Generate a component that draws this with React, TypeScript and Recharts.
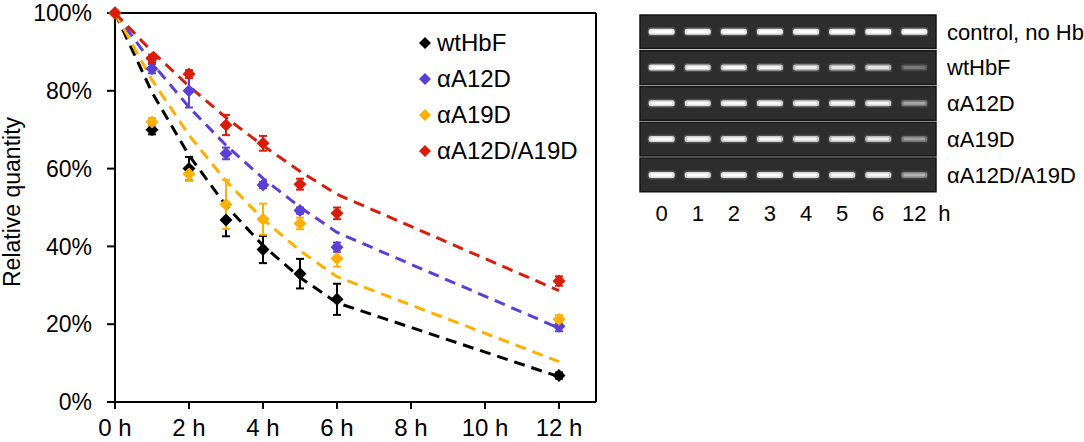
import React from 'react';
import {
  ComposedChart, Line, Scatter, XAxis, YAxis, ErrorBar, ReferenceLine, ReferenceArea, Legend,
} from 'recharts';

// ---------- data: time course ----------
const times = [0, 1, 2, 3, 4, 5, 6, 12];
const xTicks = [0, 2, 4, 6, 8, 10, 12];
const yTicks = [0, 20, 40, 60, 80, 100];

const seriesNames = ['wtHbF', 'αA12D', 'αA19D', 'αA12D/A19D'];
const seriesColors = ['#000000', '#5B40D6', '#FFB000', '#D81E0A'];

const wtMean = [100, 70, 60, 46.8, 39.2, 33, 26.4, 6.8];
const wtErr = [0, 1.2, 3, 4.2, 3.5, 3.8, 4, 0.8];
const a12Mean = [100, 85.7, 80, 63.9, 55.8, 49.2, 39.8, 19.5];
const a12Err = [0, 1.2, 4.3, 1.5, 0.8, 0.8, 1.2, 1.3];
const a19Mean = [100, 72, 58.6, 50.8, 47, 45.9, 36.9, 21.3];
const a19Err = [0, 1, 1.6, 6.3, 4, 1.5, 2.1, 1];
const dblMean = [100, 88.3, 84.3, 71.2, 66.5, 56, 48.5, 31.1];
const dblErr = [0, 1, 1, 2.6, 1.9, 1.4, 1.5, 1.2];

// dashed fitted curves
const wtFit = [100, 79.6, 63.4, 50.5, 40.2, 32.0, 25.5, 6.5];
const a12Fit = [100, 87.1, 75.8, 66.0, 57.5, 50.1, 43.6, 19.0];
const a19Fit = [100, 82.8, 68.6, 56.8, 47.0, 38.9, 32.2, 10.4];
const dblFit = [100, 90.1, 81.2, 73.1, 65.9, 59.3, 53.4, 28.6];

// ---------- data: gel ----------
const laneLabels = ['0', '1', '2', '3', '4', '5', '6', '12'];
const gelRows = ['control, no Hb', 'wtHbF', 'αA12D', 'αA19D', 'αA12D/A19D'];
const gelControl = [1, 1, 1, 1, 1, 1, 1, 1];
const gelWt = [0.95, 0.85, 0.82, 0.78, 0.72, 0.68, 0.66, 0.2];
const gelA12 = [0.9, 0.9, 0.88, 0.88, 0.85, 0.85, 0.8, 0.35];
const gelA19 = [0.9, 0.85, 0.82, 0.82, 0.8, 0.78, 0.72, 0.33];
const gelDbl = [0.95, 0.92, 0.92, 0.92, 0.9, 0.88, 0.85, 0.4];

const FONT = '"Liberation Sans", Arial, sans-serif';

const means = [wtMean, a12Mean, a19Mean, dblMean];
const errs = [wtErr, a12Err, a19Err, dblErr];
const fits = [wtFit, a12Fit, a19Fit, dblFit];

const pointData = means.map((m, s) => times.map((t, i) => ({ t, y: m[i], err: errs[s][i] })));
const fitData = fits.map((f) => times.map((t, i) => ({ t, y: f[i] })));

const gelIntensity = [gelControl, gelWt, gelA12, gelA19, gelDbl];
const bandData = gelIntensity.flatMap((rowVals, row) =>
  rowVals.map((v, lane) => ({ lane, row, v }))
);

const Diamond = (props: any) => {
  const { cx, cy, fill } = props;
  if (cx == null || cy == null) return null;
  const r = 6.5;
  return <path d={`M${cx},${cy - r}L${cx + r},${cy}L${cx},${cy + r}L${cx - r},${cy}Z`} fill={fill} />;
};

const LegendBox = () => (
  <div style={{ fontFamily: FONT, fontSize: 24, color: '#000' }}>
    {seriesNames.map((n, i) => (
      <div key={n} style={{ height: 36, display: 'flex', alignItems: 'center' }}>
        <svg width={14} height={14} style={{ marginRight: 5 }}>
          <path d="M7,1L13,7L7,13L1,7Z" fill={seriesColors[i]} />
        </svg>
        <span>{n}</span>
      </div>
    ))}
  </div>
);

const Band = (props: any) => {
  const { cx, cy, payload } = props;
  if (cx == null || cy == null) return null;
  const v = payload.v;
  return (
    <g>
      <rect x={cx - 14} y={cy - 4.5} width={28} height={9} rx={3} fill="#9a9a9a" opacity={v * 0.35} />
      <rect x={cx - 13} y={cy - 3} width={26} height={6} rx={2.5} fill="#e8e8e8" opacity={v} />
      <rect x={cx - 11} y={cy - 1.5} width={22} height={3} rx={1.5} fill="#ffffff" opacity={v} />
    </g>
  );
};

const GelTick = (props: any) => {
  const { x, y, payload } = props;
  const label = laneLabels[payload.value];
  return (
    <g>
      <text x={x} y={y} dy={29} textAnchor="middle" fontSize={22} fontFamily={FONT} fill="#000">
        {label}
      </text>
      {payload.value === laneLabels.length - 1 && (
        <text x={x + 30} y={y} dy={29} textAnchor="middle" fontSize={22} fontFamily={FONT} fill="#000">
          h
        </text>
      )}
    </g>
  );
};

export default function App() {
  return (
    <div style={{ position: 'absolute', left: 0, top: 0, width: 1084, height: 442, background: '#fff' }}>
      <div style={{ position: 'absolute', left: 0, top: 0 }}>
        <ComposedChart width={620} height={442} margin={{ top: 13, right: 24, left: 0, bottom: 0 }}>
          <XAxis
            type="number"
            dataKey="t"
            domain={[0, 13]}
            ticks={xTicks}
            tickFormatter={(v: number) => `${v} h`}
            height={40}
            axisLine={{ stroke: '#000', strokeWidth: 2 }}
            tickLine={{ stroke: '#000', strokeWidth: 2 }}
            tickSize={7}
            tickMargin={10}
            tick={{ fill: '#000', fontSize: 24, fontFamily: FONT }}
            allowDuplicatedCategory={false}
          />
          <YAxis
            type="number"
            domain={[0, 100]}
            ticks={yTicks}
            tickFormatter={(v: number) => `${v}%`}
            width={115}
            axisLine={{ stroke: '#000', strokeWidth: 2 }}
            tickLine={{ stroke: '#000', strokeWidth: 2 }}
            tickSize={8}
            tickMargin={15}
            tick={{ fill: '#000', fontSize: 23, fontFamily: FONT }}
            label={{
              content: () => (
                <text
                  x={12}
                  y={202}
                  transform="rotate(-90 12 202)"
                  textAnchor="middle"
                  dominantBaseline="central"
                  fontSize={23}
                  fontFamily={FONT}
                  fill="#000"
                >
                  Relative quantity
                </text>
              ),
            }}
          />
          <ReferenceLine y={100} stroke="#000" strokeWidth={2} />
          <ReferenceLine x={13} stroke="#000" strokeWidth={2} />
          {fitData.map((d, s) => (
            <Line
              key={'fit' + s}
              data={d}
              dataKey="y"
              type="linear"
              stroke={seriesColors[s]}
              strokeWidth={3}
              strokeDasharray="11 7"
              dot={false}
              activeDot={false}
              legendType="none"
              isAnimationActive={false}
            />
          ))}
          {pointData.map((d, s) => (
            <Scatter
              key={'pts' + s}
              name={seriesNames[s]}
              data={d}
              dataKey="y"
              fill={seriesColors[s]}
              shape={(p: any) => <Diamond {...p} fill={seriesColors[s]} />}
              isAnimationActive={false}
            >
              <ErrorBar dataKey="err" direction="y" width={4} strokeWidth={2} stroke={seriesColors[s]} />
            </Scatter>
          ))}
          <Legend
            layout="vertical"
            align="center"
            verticalAlign="middle"
            content={() => <LegendBox />}
            wrapperStyle={{ position: 'absolute', left: 418, top: 25, width: 190 }}
          />
        </ComposedChart>
      </div>

      <div style={{ position: 'absolute', left: 630, top: 0 }}>
        <ComposedChart width={454} height={260} margin={{ top: 15, right: 0, left: 10, bottom: 0 }}>
          <XAxis
            type="number"
            dataKey="lane"
            domain={[-0.6, 7.6]}
            ticks={[0, 1, 2, 3, 4, 5, 6, 7]}
            height={68.3}
            axisLine={false}
            tickLine={false}
            tickSize={0}
            tickMargin={0}
            tick={<GelTick />}
          />
          <YAxis
            type="number"
            orientation="right"
            domain={[-0.47, 4.47]}
            reversed
            ticks={[0, 1, 2, 3, 4]}
            tickFormatter={(v: number) => gelRows[v]}
            width={148}
            axisLine={false}
            tickLine={false}
            tickSize={0}
            tickMargin={11}
            tick={{ fill: '#000', fontSize: 22, fontFamily: FONT }}
          />
          {gelRows.map((r, i) => (
            <ReferenceArea
              key={r}
              x1={-0.6}
              x2={7.6}
              y1={i - 0.47}
              y2={i + 0.47}
              fill="#2d2d2d"
              fillOpacity={1}
              stroke="#151515"
              strokeWidth={1.5}
            />
          ))}
          <Scatter data={bandData} dataKey="row" shape={(p: any) => <Band {...p} />} isAnimationActive={false} />
        </ComposedChart>
      </div>
    </div>
  );
}
